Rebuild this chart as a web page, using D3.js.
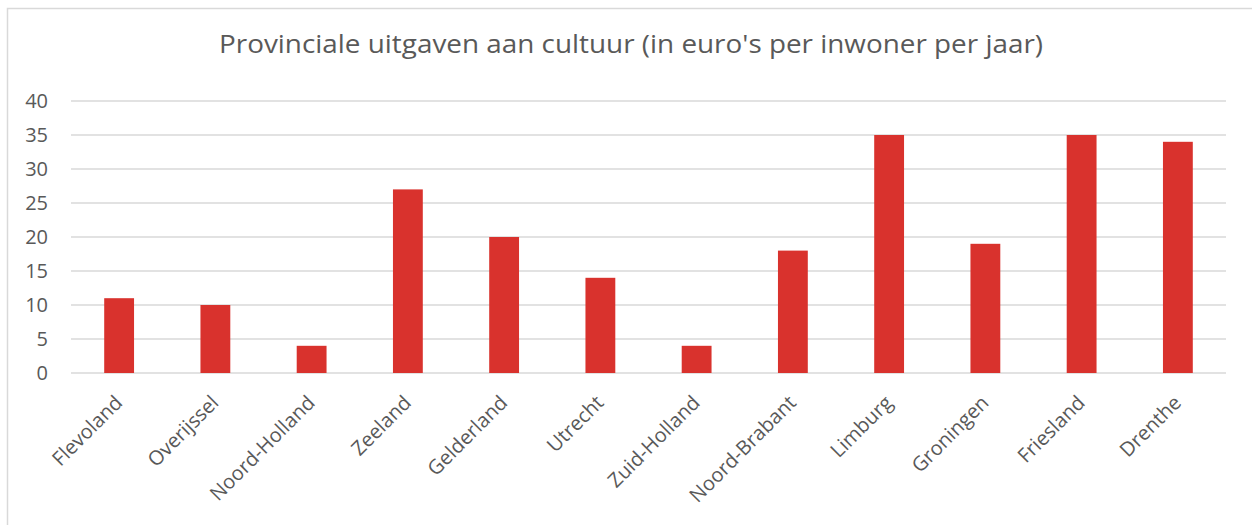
<!DOCTYPE html>
<html>
<head>
<meta charset="utf-8">
<script src="https://cdn.jsdelivr.net/npm/d3@7"></script>
<style>
  body { margin: 0; background: #fff; }
  text { font-family: "Open Sans", "Noto Sans", sans-serif; fill: #595959; }
</style>
</head>
<body>
<div id="chart-area"></div>
<script>
// Data
let provinces = ["Flevoland", "Overijssel", "Noord-Holland", "Zeeland", "Gelderland", "Utrecht",
    "Zuid-Holland", "Noord-Brabant", "Limburg", "Groningen", "Friesland", "Drenthe"];
let spending = [11, 10, 4, 27, 20, 14, 4, 18, 35, 19, 35, 34];
let yTicks = [0, 5, 10, 15, 20, 25, 30, 35, 40];
let title = "Provinciale uitgaven aan cultuur (in euro's per inwoner per jaar)";

let data = provinces.map((p, i) => ({name: p, value: spending[i]}));

// SVG drawing area
let margin = {top: 101, right: 26, bottom: 152, left: 71};
let width = 1252 - margin.left - margin.right,
    height = 525 - margin.top - margin.bottom;

let root = d3.select("#chart-area").append("svg")
    .attr("width", 1252)
    .attr("height", 525);

// chart border
root.append("rect")
    .attr("x", 7.5).attr("y", 8.5)
    .attr("width", 1270).attr("height", 540)
    .attr("fill", "none")
    .attr("stroke", "#d9d9d9")
    .attr("stroke-width", 1.5);

root.append("text")
    .attr("x", 631)
    .attr("y", 53)
    .attr("text-anchor", "middle")
    .attr("font-size", 26)
    .attr("textLength", 824)
    .attr("lengthAdjust", "spacingAndGlyphs")
    .text(title);

let svg = root.append("g")
    .attr("transform", "translate(" + margin.left + "," + margin.top + ")");

// Scales
let x = d3.scaleBand()
    .domain(provinces)
    .range([0, width])
    .paddingInner(0.69)
    .paddingOuter(0.345);

let y = d3.scaleLinear()
    .domain([0, 40])
    .range([height, 0]);

// Gridlines
svg.append("g")
    .selectAll("line")
    .data(yTicks)
    .enter().append("line")
    .attr("x1", 0).attr("x2", width)
    .attr("y1", d => y(d)).attr("y2", d => y(d))
    .attr("stroke", "#d9d9d9")
    .attr("stroke-width", 1.3);

// Bars
svg.selectAll(".bar")
    .data(data)
    .enter().append("rect")
    .attr("class", "bar")
    .attr("x", d => x(d.name))
    .attr("y", d => y(d.value))
    .attr("width", x.bandwidth())
    .attr("height", d => height - y(d.value))
    .attr("fill", "#d9322d");

// Y axis
let yAxis = svg.append("g")
    .call(d3.axisLeft(y).tickValues(yTicks).tickSize(0).tickPadding(23));
yAxis.select(".domain").remove();
yAxis.selectAll("text")
    .attr("font-size", 20)
    .attr("font-family", "'Open Sans', sans-serif")
    .attr("fill", "#595959");

// X axis labels
let xAxis = svg.append("g")
    .attr("transform", `translate(0,${height})`)
    .call(d3.axisBottom(x).tickSize(0));
xAxis.select(".domain").remove();
xAxis.selectAll("text")
    .attr("font-size", 20)
    .attr("font-family", "'Open Sans', sans-serif")
    .attr("fill", "#595959")
    .attr("text-anchor", "end")
    .attr("dy", 0)
    .attr("y", 0)
    .attr("transform", "translate(4.5,31) rotate(-45)");
</script>
</body>
</html>
